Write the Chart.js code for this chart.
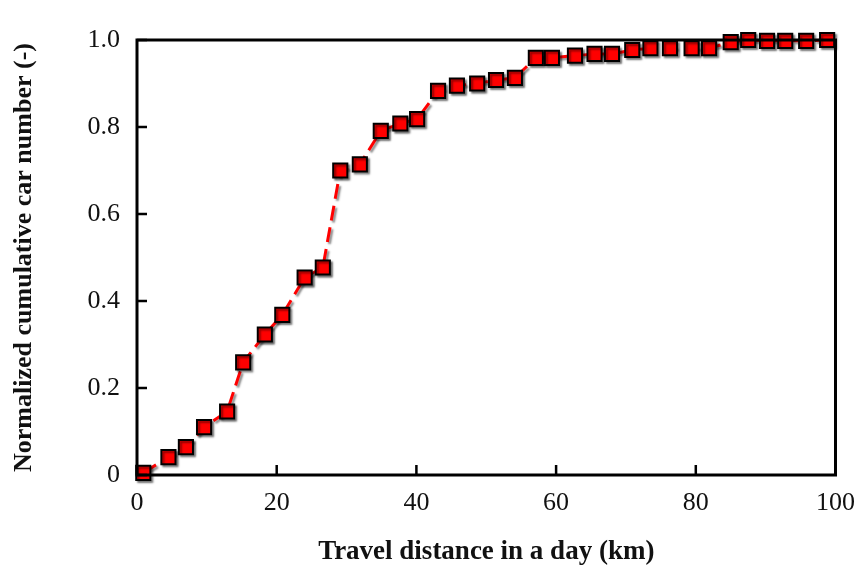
<!DOCTYPE html>
<html>
<head>
<meta charset="utf-8">
<script src="https://cdn.jsdelivr.net/npm/chart.js@4.4.0/dist/chart.umd.min.js"></script>
<style>
html,body{margin:0;padding:0;background:#fff;}
#wrap{width:868px;height:565px;}
</style>
</head>
<body>
<div id="wrap"><canvas id="c" width="868" height="565"></canvas></div>
<script>
const distanceKm = [0.9,4.5,7.0,9.6,12.9,15.2,18.3,20.8,24.0,26.6,29.1,31.9,34.9,37.7,40.1,43.1,45.8,48.7,51.4,54.1,57.1,59.4,62.7,65.5,68.0,70.9,73.5,76.3,79.4,81.9,85.0,87.5,90.2,92.8,95.8,98.8];
const cumulative = [0.005,0.041,0.064,0.110,0.146,0.259,0.323,0.368,0.454,0.477,0.700,0.714,0.791,0.808,0.818,0.883,0.895,0.900,0.908,0.913,0.959,0.959,0.964,0.968,0.968,0.977,0.981,0.981,0.981,0.981,0.995,1.0,0.998,0.998,0.998,1.0];
const xTicks = [0,20,40,60,80,100];
const yTicks = [0,0.2,0.4,0.6,0.8,1.0];
const xTitle = 'Travel distance in a day (km)';
const yTitle = 'Normalized cumulative car number (-)';

const FONT = "'Liberation Serif', 'DejaVu Serif', serif";

const boxPlugin = {
  id: 'box',
  beforeDatasetsDraw(chart){
    const ctx = chart.ctx;
    ctx.save();
    ctx.shadowColor = 'rgba(0,0,0,0.45)';
    ctx.shadowOffsetX = 2; ctx.shadowOffsetY = 2; ctx.shadowBlur = 2;
  },
  afterDatasetsDraw(chart){
    chart.ctx.restore();
  },
  afterDraw(chart){
    const {ctx, chartArea:a, scales:{x,y}} = chart;
    ctx.save();
    ctx.strokeStyle = '#000';
    ctx.lineWidth = 3;
    ctx.strokeRect(a.left, a.top, a.right-a.left, a.bottom-a.top);
    ctx.lineWidth = 2.5;
    ctx.beginPath();
    xTicks.forEach(v=>{ const px = x.getPixelForValue(v); ctx.moveTo(px,a.bottom); ctx.lineTo(px,a.bottom-10); });
    yTicks.forEach(v=>{ const py = y.getPixelForValue(v); ctx.moveTo(a.left,py); ctx.lineTo(a.left+10,py); });
    ctx.stroke();
    ctx.restore();
  }
};

new Chart(document.getElementById('c'), {
  type: 'line',
  data: {
    datasets: [{
      data: distanceKm.map((d,i)=>({x:d, y:cumulative[i]})),
      borderColor: '#ff0000',
      borderWidth: 3,
      borderDash: [15,7],
      pointStyle: 'rect',
      pointRadius: 10,
      pointBackgroundColor: '#ff0000',
      pointBorderColor: '#000',
      pointBorderWidth: 2,
      tension: 0,
      clip: false
    }]
  },
  options: {
    responsive: false,
    animation: false,
    events: [],
    layout: { padding: { left: 0, right: 30, top: 40, bottom: 0 } },
    plugins: { legend: { display: false }, tooltip: { enabled: false } },
    scales: {
      x: {
        type: 'linear', min: 0, max: 100,
        afterBuildTicks(s){ s.ticks = xTicks.map(v=>({value:v})); },
        afterFit(s){ s.height = 90; },
        grid: { display: false, drawTicks: false },
        border: { display: false },
        ticks: { color: '#111', padding: 13, font: { family: FONT, size: 26 }, maxRotation: 0,
                 callback: v => String(v) },
        title: { display: true, text: xTitle, color: '#111', padding: { top: 10, bottom: -3 },
                 font: { family: FONT, size: 27, weight: 'bold' } }
      },
      y: {
        type: 'linear', min: 0, max: 1.0,
        afterBuildTicks(s){ s.ticks = yTicks.map(v=>({value:v})); },
        afterFit(s){ s.width = 137; },
        grid: { display: false, drawTicks: false },
        border: { display: false },
        ticks: { color: '#111', padding: 17, font: { family: FONT, size: 26 },
                 callback: v => v === 0 ? '0' : Number(v).toFixed(1) },
        title: { display: true, text: yTitle, color: '#111', padding: { top: 9, bottom: 4 },
                 font: { family: FONT, size: 26, weight: 'bold' } }
      }
    }
  },
  plugins: [boxPlugin]
});
</script>
</body>
</html>
